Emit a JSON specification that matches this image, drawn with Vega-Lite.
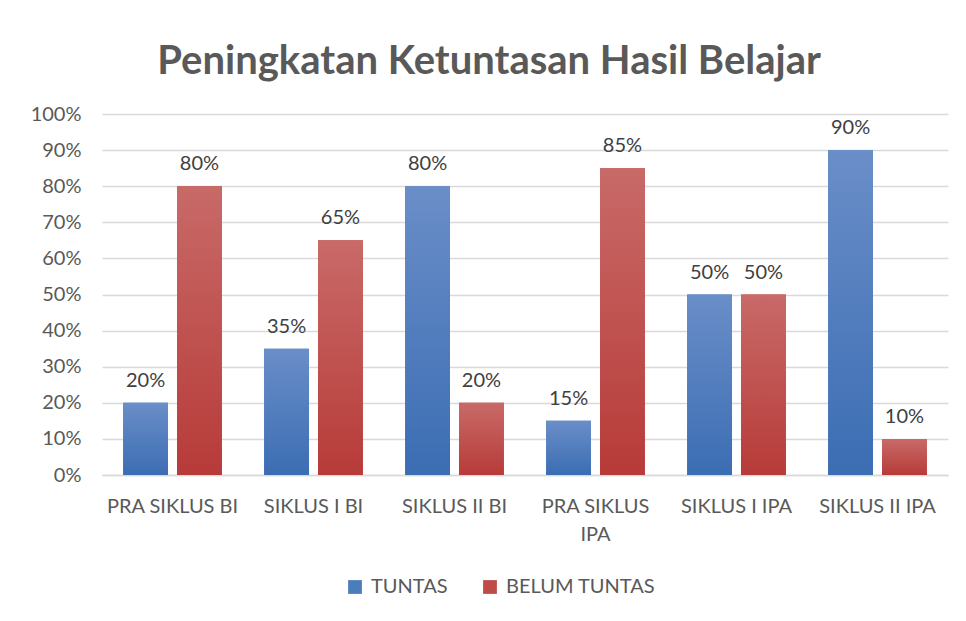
{
  "$schema": "https://vega.github.io/schema/vega-lite/v6.json",
  "width": 846,
  "height": 361,
  "autosize": "none",
  "padding": {"left": 102, "top": 114, "right": 18, "bottom": 146},
  "background": "white",
  "title": {
    "text": "Peningkatan Ketuntasan Hasil Belajar",
    "font": "Lato",
    "fontSize": 40,
    "fontWeight": "bold",
    "color": "#595959",
    "anchor": "middle",
    "frame": "bounds",
    "offset": 22
  },
  "config": {
    "view": {"stroke": null},
    "font": "Lato"
  },
  "data": {
    "values": [
      {"kategori": "PRA SIKLUS BI", "status": "TUNTAS", "nilai": 0.20},
      {"kategori": "PRA SIKLUS BI", "status": "BELUM TUNTAS", "nilai": 0.80},
      {"kategori": "SIKLUS I BI", "status": "TUNTAS", "nilai": 0.35},
      {"kategori": "SIKLUS I BI", "status": "BELUM TUNTAS", "nilai": 0.65},
      {"kategori": "SIKLUS II BI", "status": "TUNTAS", "nilai": 0.80},
      {"kategori": "SIKLUS II BI", "status": "BELUM TUNTAS", "nilai": 0.20},
      {"kategori": "PRA SIKLUS IPA", "status": "TUNTAS", "nilai": 0.15},
      {"kategori": "PRA SIKLUS IPA", "status": "BELUM TUNTAS", "nilai": 0.85},
      {"kategori": "SIKLUS I IPA", "status": "TUNTAS", "nilai": 0.50},
      {"kategori": "SIKLUS I IPA", "status": "BELUM TUNTAS", "nilai": 0.50},
      {"kategori": "SIKLUS II IPA", "status": "TUNTAS", "nilai": 0.90},
      {"kategori": "SIKLUS II IPA", "status": "BELUM TUNTAS", "nilai": 0.10}
    ]
  },
  "encoding": {
    "x": {
      "field": "kategori",
      "type": "nominal",
      "sort": null,
      "scale": {"paddingInner": 0.3, "paddingOuter": 0.15},
      "axis": {
        "title": null,
        "labelAngle": 0,
        "labelFont": "Lato",
        "labelFontSize": 20,
        "labelColor": "#595959",
        "labelPadding": 21,
        "labelLineHeight": 28,
        "ticks": false,
        "domainColor": "#d9d9d9",
        "domainWidth": 1.5,
        "labelExpr": "datum.label == 'PRA SIKLUS IPA' ? ['PRA SIKLUS', 'IPA'] : datum.label"
      }
    },
    "xOffset": {
      "field": "status",
      "type": "nominal",
      "sort": ["TUNTAS", "BELUM TUNTAS"],
      "scale": {"paddingInner": 0.167, "paddingOuter": 0}
    },
    "y": {
      "field": "nilai",
      "type": "quantitative",
      "scale": {"domain": [0, 1]},
      "axis": {
        "title": null,
        "format": ".0%",
        "values": [0, 0.1, 0.2, 0.3, 0.4, 0.5, 0.6, 0.7, 0.8, 0.9, 1],
        "labelOverlap": false,
        "labelFont": "Lato",
        "labelFontSize": 20,
        "labelColor": "#595959",
        "labelPadding": 21,
        "ticks": false,
        "domain": false,
        "gridColor": "#d9d9d9",
        "gridWidth": 1.5
      }
    }
  },
  "layer": [
    {
      "mark": {"type": "bar"},
      "encoding": {
        "color": {
          "field": "status",
          "type": "nominal",
          "sort": ["TUNTAS", "BELUM TUNTAS"],
          "scale": {"domain": ["TUNTAS", "BELUM TUNTAS"], "range": ["#4a7ebb", "#be4b48"]},
          "legend": {
            "title": null,
            "orient": "none",
            "legendX": 243,
            "legendY": 463,
            "direction": "horizontal",
            "symbolType": "square",
            "symbolSize": 190,
            "symbolStrokeWidth": 0,
            "labelFont": "Lato",
            "labelFontSize": 20,
            "labelColor": "#595959",
            "labelOffset": 6,
            "columnPadding": 32
          }
        }
      }
    },
    {
      "mark": {"type": "bar"},
      "encoding": {
        "fill": {
          "condition": {
            "test": "datum.status == 'TUNTAS'",
            "value": {
              "gradient": "linear", "x1": 0, "y1": 0, "x2": 0, "y2": 1,
              "stops": [{"offset": 0, "color": "#6a8ec8"}, {"offset": 1, "color": "#3b6db3"}]
            }
          },
          "value": {
            "gradient": "linear", "x1": 0, "y1": 0, "x2": 0, "y2": 1,
            "stops": [{"offset": 0, "color": "#c86a68"}, {"offset": 1, "color": "#b73b38"}]
          }
        }
      }
    },
    {
      "mark": {"type": "text", "baseline": "bottom", "dy": -12, "fontSize": 20, "font": "Lato", "color": "#404040"},
      "encoding": {
        "text": {"field": "nilai", "type": "quantitative", "format": ".0%"}
      }
    }
  ]
}
